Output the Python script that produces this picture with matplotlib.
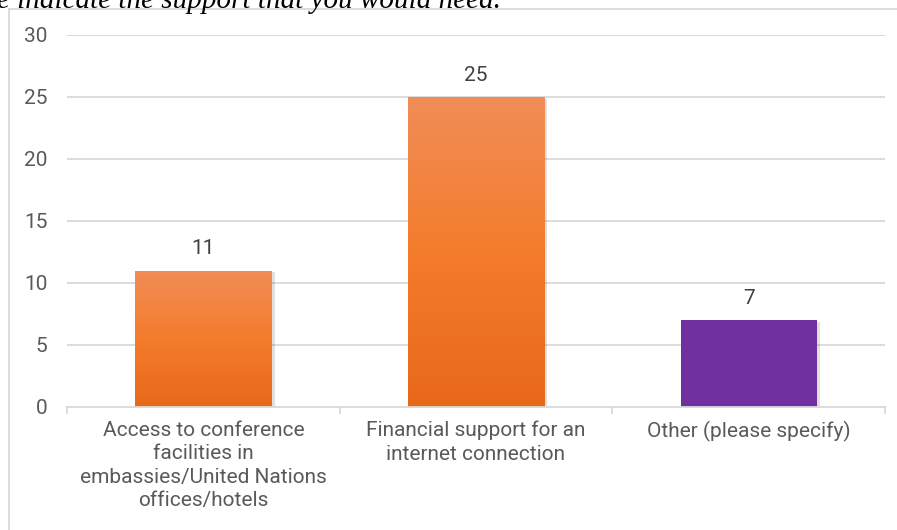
import matplotlib
matplotlib.use("Agg")
import matplotlib.pyplot as plt
import numpy as np
from matplotlib.colors import LinearSegmentedColormap
from matplotlib.lines import Line2D

categories = ["Access to conference\nfacilities in\nembassies/United Nations\noffices/hotels",
              "Financial support for an\ninternet connection",
              "Other (please specify)"]
values = [11, 25, 7]
yticks = [0, 5, 10, 15, 20, 25, 30]
title_fragment = "e indicate the support that you would need."

W, H = 897, 530
fig = plt.figure(figsize=(W / 100, H / 100), dpi=100)
plt.rcParams['font.family'] = ['Roboto', 'DejaVu Sans']

# axes in pixel coords: x 67..885, y 35..407
ax = fig.add_axes([67 / W, 1 - 407 / H, (885 - 67) / W, (407 - 35) / H])
ax.set_xlim(-0.5, 2.5)
ax.set_ylim(0, 30)

grid_c = "#d9d9d9"
for t in yticks[1:]:
    ax.axhline(t, color=grid_c, lw=1.3, zorder=0)

orange_cmap = LinearSegmentedColormap.from_list("o", ["#e8681a", "#f47c2c", "#f08d57"])
bw = 0.5
fs = 15
for i, v in enumerate(values):
    # shadow
    ax.bar(i + 0.012, v, width=bw, color="#000000", alpha=0.12, zorder=1,
           bottom=-0.15)
    if i < 2:
        b = ax.bar(i, v, width=bw, color="none", zorder=2)
        grad = np.linspace(0, 1, 256).reshape(-1, 1)
        im = ax.imshow(grad, cmap=orange_cmap, origin="lower", aspect="auto",
                       extent=[i - bw / 2, i + bw / 2, 0, v], zorder=2)
        im.set_clip_path(b.patches[0])
    else:
        ax.bar(i, v, width=bw, color="#7030a0", zorder=2)
    ax.text(i, v + 1.0, str(v), ha="center", va="bottom", fontsize=fs,
            color="#404040")

ax.set_xlim(-0.5, 2.5)
ax.set_ylim(0, 30)
ax.set_yticks(yticks)
ax.set_yticklabels([str(t) for t in yticks], fontsize=fs, color="#595959")
ax.tick_params(axis="y", length=0, pad=14)
ax.set_xticks([0, 1, 2])
ax.set_xticklabels(categories, fontsize=fs, color="#595959", linespacing=1.3,
                   va="top")
ax.tick_params(axis="x", length=0, pad=10)
for s in ["top", "right", "left"]:
    ax.spines[s].set_visible(False)
ax.spines["bottom"].set_color(grid_c)
ax.spines["bottom"].set_linewidth(1.3)
# category boundary ticks
for xb in [-0.5, 0.5, 1.5, 2.5]:
    ax.plot([xb, xb], [0, -0.45], color=grid_c, lw=1.3, clip_on=False, zorder=3)

# outer chart border (left & top)
fig.add_artist(Line2D([9 / W, 9 / W], [0, 1 - 9 / H], transform=fig.transFigure,
                      color=grid_c, lw=1.3))
fig.add_artist(Line2D([9 / W, 1], [1 - 9 / H, 1 - 9 / H], transform=fig.transFigure,
                      color=grid_c, lw=1.3))

fig.text(-3 / W, 1 - 8 / H, title_fragment, family="Liberation Serif",
         style="italic", fontsize=21, color="black", va="baseline", ha="left")

fig.savefig("out.png", dpi=100, facecolor="white")
